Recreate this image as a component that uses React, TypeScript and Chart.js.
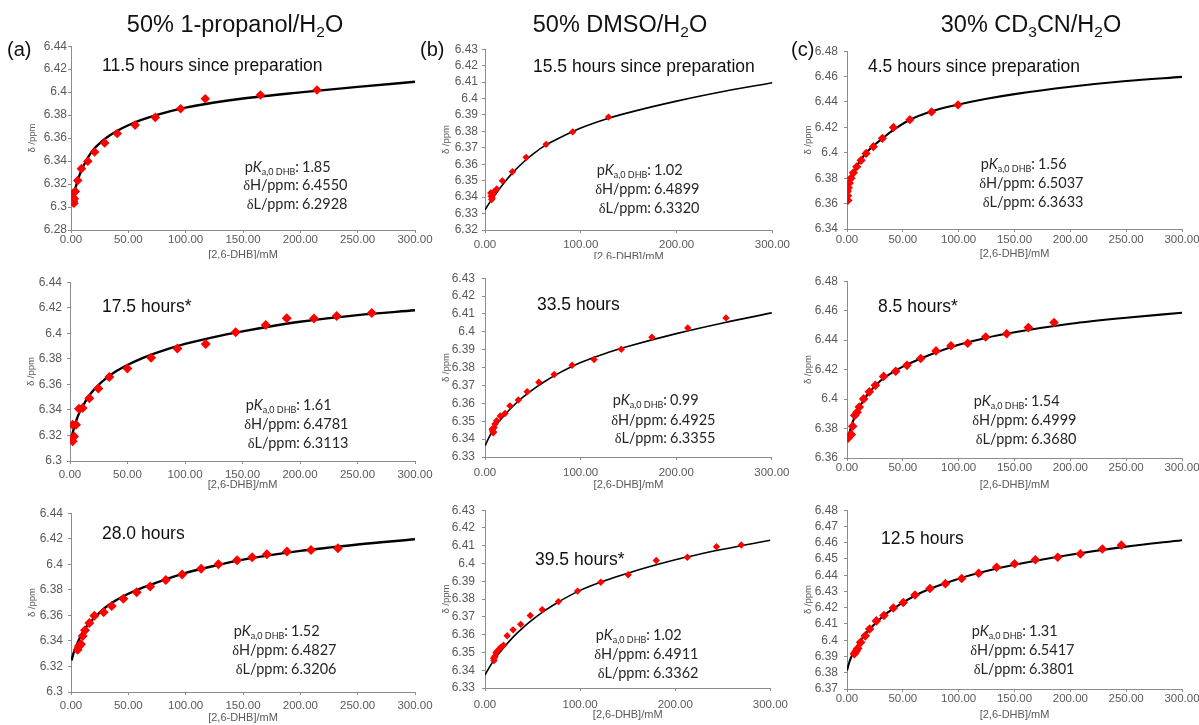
import React, { useEffect, useRef } from "react";
import { Chart, registerables } from "chart.js";
Chart.register(...registerables);

// ---------- tick labels ----------
const xTicks50 = [0, 50, 100, 150, 200, 250, 300];
const xTicks100 = [0, 100, 200, 300];
const yTicksA1 = [6.28, 6.3, 6.32, 6.34, 6.36, 6.38, 6.4, 6.42, 6.44];
const yTicksA23 = [6.3, 6.32, 6.34, 6.36, 6.38, 6.4, 6.42, 6.44];
const yTicksB1 = [6.32, 6.33, 6.34, 6.35, 6.36, 6.37, 6.38, 6.39, 6.4, 6.41, 6.42, 6.43];
const yTicksB23 = [6.33, 6.34, 6.35, 6.36, 6.37, 6.38, 6.39, 6.4, 6.41, 6.42, 6.43];
const yTicksC1 = [6.34, 6.36, 6.38, 6.4, 6.42, 6.44, 6.46, 6.48];
const yTicksC2 = [6.36, 6.38, 6.4, 6.42, 6.44, 6.46, 6.48];
const yTicksC3 = [6.37, 6.38, 6.39, 6.4, 6.41, 6.42, 6.43, 6.44, 6.45, 6.46, 6.47, 6.48];

// ---------- (a) 50% 1-propanol/H2O ----------
const a1PtsX = [1.2, 1.5, 2.0, 2.1, 2.6, 2.9, 3.8, 5.9, 9.1, 14.7, 20.6, 29.4, 40.3, 55.9, 73.5, 95.6, 117.1, 165.2, 214.5];
const a1PtsY = [6.3045, 6.3086, 6.3121, 6.3051, 6.3033, 6.3071, 6.3135, 6.3231, 6.3334, 6.3398, 6.3479, 6.3558, 6.364, 6.3713, 6.378, 6.3855, 6.3943, 6.3975, 6.4019];
const a1FitX = [0.3, 1, 2, 3.5, 5, 7.5, 10, 15, 20, 25, 30, 40, 50, 62, 75, 100, 125, 150, 200, 250, 300];
const a1FitY = [6.301, 6.3045, 6.309, 6.315, 6.3205, 6.328, 6.334, 6.3435, 6.3505, 6.3555, 6.3597, 6.3662, 6.3712, 6.376, 6.3803, 6.3865, 6.391, 6.3945, 6.3998, 6.4046, 6.409];

const a2PtsX = [1.4, 2.3, 3.5, 2.3, 5.2, 7.8, 11.0, 16.8, 24.6, 34.2, 49.9, 70.5, 93.4, 118.0, 144.1, 170.2, 188.5, 212.2, 231.9, 262.4];
const a2PtsY = [6.3165, 6.3155, 6.3191, 6.3283, 6.3283, 6.341, 6.3415, 6.3491, 6.3568, 6.3657, 6.3725, 6.3809, 6.3881, 6.3916, 6.4008, 6.4064, 6.4117, 6.4115, 6.4135, 6.4158];
const a2FitX = [0.3, 2, 5, 7.5, 10, 15, 20, 25, 30, 40, 50, 62, 75, 100, 125, 150, 175, 200, 250, 300];
const a2FitY = [6.3135, 6.321, 6.3305, 6.3365, 6.341, 6.349, 6.355, 6.3597, 6.3637, 6.3702, 6.3752, 6.3802, 6.3847, 6.3917, 6.397, 6.4015, 6.4055, 6.409, 6.4142, 6.418];

const a3PtsX = [5.8, 7.0, 8.7, 10.2, 12.2, 16.0, 20.4, 28.5, 35.5, 45.7, 57.3, 69.0, 82.7, 96.9, 113.5, 128.6, 144.9, 158.0, 170.8, 188.3, 209.3, 232.8];
const a3PtsY = [6.3331, 6.3361, 6.3374, 6.3438, 6.3484, 6.354, 6.3598, 6.3624, 6.3674, 6.373, 6.3781, 6.3827, 6.3876, 6.3921, 6.3965, 6.4, 6.4031, 6.4056, 6.4079, 6.41, 6.4112, 6.4125];
const a3FitX = [0.5, 2, 5, 7.5, 10, 15, 20, 30, 40, 50, 62, 75, 100, 125, 150, 200, 250, 300];
const a3FitY = [6.3247, 6.3298, 6.3368, 6.342, 6.3463, 6.3528, 6.3578, 6.3662, 6.3722, 6.3769, 6.3816, 6.3858, 6.3932, 6.3988, 6.4036, 6.4105, 6.4155, 6.4196];

// ---------- (b) 50% DMSO/H2O ----------
const b1PtsX = [6.0, 6.5, 7.0, 7.5, 8.0, 9.0, 10.0, 12.2, 18.1, 28.6, 42.9, 63.8, 91.6, 128.9];
const b1PtsY = [6.3425, 6.3405, 6.3385, 6.3395, 6.3415, 6.343, 6.3435, 6.3449, 6.3499, 6.3554, 6.3642, 6.3721, 6.3797, 6.3887];
const b1FitX = [0, 5, 10, 20, 30, 40, 50, 62, 75, 100, 125, 150, 200, 250, 300];
const b1FitY = [6.3323, 6.3368, 6.341, 6.3488, 6.3555, 6.3612, 6.3661, 6.3712, 6.3752, 6.382, 6.3872, 6.3914, 6.3984, 6.4044, 6.4096];

const b2PtsX = [7.5, 8.0, 8.5, 9.0, 9.5, 10.4, 12.2, 16.0, 20.9, 26.1, 34.8, 44.1, 56.3, 72.3, 91.1, 114, 142.5, 174.5, 212, 252];
const b2PtsY = [6.3455, 6.3445, 6.3435, 6.344, 6.3465, 6.3485, 6.3503, 6.3529, 6.3543, 6.3586, 6.3619, 6.3665, 6.3718, 6.3761, 6.3813, 6.3845, 6.3903, 6.397, 6.4022, 6.4078];
const b2FitX = [0, 5, 10, 20, 30, 40, 50, 62, 75, 100, 125, 150, 200, 250, 300];
const b2FitY = [6.3363, 6.3418, 6.3465, 6.3532, 6.3588, 6.3636, 6.3677, 6.3721, 6.3762, 6.3828, 6.3878, 6.3919, 6.399, 6.4051, 6.4106];

const b3PtsX = [9.0, 9.5, 10.0, 10.4, 11.5, 12.2, 13.9, 16.7, 19.5, 23.3, 29.5, 37.5, 47.6, 60.1, 77.2, 97.3, 121.7, 150.5, 180, 212.7, 243.3, 269.4];
const b3PtsY = [6.3468, 6.3455, 6.3472, 6.3478, 6.3498, 6.3501, 6.3514, 6.353, 6.3541, 6.3594, 6.3627, 6.3658, 6.3708, 6.3741, 6.3786, 6.3845, 6.3895, 6.3937, 6.4017, 6.4035, 6.4095, 6.4104];
const b3FitX = [0, 5, 10, 20, 30, 40, 50, 62, 75, 100, 125, 150, 200, 250, 300];
const b3FitY = [6.3373, 6.342, 6.3462, 6.3529, 6.3589, 6.364, 6.3684, 6.3732, 6.3777, 6.3849, 6.3902, 6.3946, 6.4021, 6.408, 6.4131];

// ---------- (c) 30% CD3CN/H2O ----------
const c1PtsX = [0.3, 0.6, 0.8, 1.2, 2.1, 3.6, 5.7, 8.7, 12.6, 17.1, 23.6, 31.7, 41.6, 56.3, 75.7, 99.4];
const c1PtsY = [6.3698, 6.3662, 6.3625, 6.3724, 6.3762, 6.38, 6.3842, 6.389, 6.3941, 6.3995, 6.4048, 6.4114, 6.42, 6.4261, 6.4322, 6.4377];
const c1FitX = [0, 1, 2, 4, 6, 9, 13, 17, 24, 32, 42, 56, 76, 100, 125, 150, 200, 250, 300];
const c1FitY = [6.3635, 6.3685, 6.3725, 6.3792, 6.3845, 6.3898, 6.3952, 6.3998, 6.4058, 6.4115, 6.4182, 6.4258, 6.4327, 6.438, 6.4425, 6.4462, 6.452, 6.4565, 6.4598];

const c2PtsX = [1.0, 1.8, 2.8, 3.9, 5.1, 6.9, 9.0, 11.0, 14.9, 20.0, 25.4, 32.8, 43.6, 53.7, 66.0, 79.7, 93.1, 108.1, 124.2, 143.0, 162.4, 185.4];
const c2PtsY = [6.3735, 6.3745, 6.3755, 6.376, 6.3815, 6.3889, 6.3911, 6.3946, 6.4001, 6.4049, 6.4093, 6.4154, 6.4189, 6.4229, 6.4275, 6.4327, 6.4362, 6.4379, 6.4421, 6.4443, 6.4485, 6.452];
const c2FitX = [0, 2, 5, 7.5, 10, 15, 20, 30, 40, 50, 62, 75, 100, 125, 150, 200, 250, 300];
const c2FitY = [6.372, 6.3768, 6.3842, 6.389, 6.393, 6.3994, 6.4046, 6.4124, 6.4178, 6.422, 6.4262, 6.4302, 6.4368, 6.4416, 6.4453, 6.4511, 6.4552, 6.4586];

const c3PtsX = [6.6, 8.1, 9.6, 12.2, 16.4, 20.3, 26.3, 33.1, 41.5, 50.4, 60.9, 74.3, 88.1, 102.7, 117.9, 134, 150.1, 168.7, 188.7, 209, 228.7, 245.7];
const c3PtsY = [6.3917, 6.3933, 6.3949, 6.3987, 6.4027, 6.4069, 6.4119, 6.4152, 6.4198, 6.4232, 6.4278, 6.4318, 6.4348, 6.438, 6.4412, 6.4449, 6.4471, 6.4495, 6.4511, 6.4531, 6.4561, 6.4585];
const c3FitX = [0, 2, 5, 10, 15, 20, 30, 40, 50, 62, 75, 100, 125, 150, 200, 250, 300];
const c3FitY = [6.3814, 6.3863, 6.3915, 6.3975, 6.4025, 6.4066, 6.4134, 6.4188, 6.4232, 6.4278, 6.4318, 6.4379, 6.4426, 6.4464, 6.4526, 6.4576, 6.4615];

// ---------- text ----------
const columnTitles = [
  { pre: "50% 1-propanol/H", sub1: "2", mid: "O", sub2: "", post: "" },
  { pre: "50% DMSO/H", sub1: "2", mid: "O", sub2: "", post: "" },
  { pre: "30% CD", sub1: "3", mid: "CN/H", sub2: "2", post: "O" },
];
const panelLetters = ["(a)", "(b)", "(c)"];
const timeLabels = [
  "11.5 hours since preparation", "15.5 hours since preparation", "4.5 hours since preparation",
  "17.5 hours*", "33.5 hours", "8.5 hours*",
  "28.0 hours", "39.5 hours*", "12.5 hours",
];
const pKaValues = ["1.85", "1.02", "1.56", "1.61", "0.99", "1.54", "1.52", "1.02", "1.31"];
const deltaHValues = ["6.4550", "6.4899", "6.5037", "6.4781", "6.4925", "6.4999", "6.4827", "6.4911", "6.5417"];
const deltaLValues = ["6.2928", "6.3320", "6.3633", "6.3113", "6.3355", "6.3680", "6.3206", "6.3362", "6.3801"];

const AX = "'Liberation Sans', Arial, sans-serif";
const GRAY = "#595959";
const AXIS = "#8c8c8c";

type Panel = {
  L: number; T: number; R: number; B: number;
  xTicks: number[]; yTicks: number[];
  px: number[]; py: number[]; fx: number[]; fy: number[];
  pr: number; lw: number;
  xLabGap: number; yLabGap: number; titleD: number; clip?: number;
  tx: number; ty: number;
  colonX: number; py3: number[];
};

const panels: Panel[] = [
  { L: 71, T: 46, R: 415, B: 230, xTicks: xTicks50, yTicks: yTicksA1, px: a1PtsX, py: a1PtsY, fx: a1FitX, fy: a1FitY, pr: 4.8, lw: 2.4, xLabGap: 10, yLabGap: 4, titleD: 25, clip: 259, tx: 102, ty: 66, colonX: 297, py3: [167, 185, 204] },
  { L: 485, T: 46, R: 773, B: 230, xTicks: xTicks100, yTicks: yTicksB1, px: b1PtsX, py: b1PtsY, fx: b1FitX, fy: b1FitY, pr: 3.7, lw: 1.6, xLabGap: 15, yLabGap: 7, titleD: 27, clip: 259, tx: 533, ty: 67, colonX: 649, py3: [170, 189, 208] },
  { L: 847, T: 46, R: 1182, B: 229, xTicks: xTicks50, yTicks: yTicksC1, px: c1PtsX, py: c1PtsY, fx: c1FitX, fy: c1FitY, pr: 4.6, lw: 2.1, xLabGap: 11, yLabGap: 9, titleD: 25, clip: 261, tx: 868, ty: 67, colonX: 1033, py3: [164, 183, 202] },
  { L: 70, T: 278, R: 415, B: 461, xTicks: xTicks50, yTicks: yTicksA23, px: a2PtsX, py: a2PtsY, fx: a2FitX, fy: a2FitY, pr: 5, lw: 2.4, xLabGap: 14, yLabGap: 8, titleD: 24, tx: 102, ty: 307, colonX: 298, py3: [405, 424, 443] },
  { L: 485, T: 272, R: 773, B: 457, xTicks: xTicks100, yTicks: yTicksB23, px: b2PtsX, py: b2PtsY, fx: b2FitX, fy: b2FitY, pr: 3.7, lw: 1.6, xLabGap: 15.5, yLabGap: 10, titleD: 28, tx: 537, ty: 305, colonX: 665, py3: [400, 420, 438] },
  { L: 847, T: 276, R: 1182, B: 458, xTicks: xTicks50, yTicks: yTicksC2, px: c2PtsX, py: c2PtsY, fx: c2FitX, fy: c2FitY, pr: 4.8, lw: 2.1, xLabGap: 10, yLabGap: 9, titleD: 27, tx: 878, ty: 307, colonX: 1026, py3: [401, 420, 439] },
  { L: 71, T: 509, R: 415, B: 692, xTicks: xTicks50, yTicks: yTicksA23, px: a3PtsX, py: a3PtsY, fx: a3FitX, fy: a3FitY, pr: 5, lw: 2.4, xLabGap: 13.5, yLabGap: 8, titleD: 26, tx: 102, ty: 534, colonX: 286, py3: [631, 650, 669] },
  { L: 485, T: 504, R: 773, B: 688, xTicks: xTicks100, yTicks: yTicksB23, px: b3PtsX, py: b3PtsY, fx: b3FitX, fy: b3FitY, pr: 3.7, lw: 1.6, xLabGap: 17, yLabGap: 10, titleD: 27, tx: 535, ty: 560, colonX: 648, py3: [635, 654, 673] },
  { L: 847, T: 505, R: 1182, B: 689, xTicks: xTicks50, yTicks: yTicksC3, px: c3PtsX, py: c3PtsY, fx: c3FitX, fy: c3FitY, pr: 4.8, lw: 2.1, xLabGap: 9.5, yLabGap: 9, titleD: 26, tx: 881, ty: 539, colonX: 1024, py3: [631, 650, 669] },
];

const YW = 50; // y-axis box width
const PT = 8;
const PR = 22;
const TICK = 3;

function PanelChart({ p }: { p: Panel }) {
  const ref = useRef<HTMLCanvasElement>(null);
  const H = p.titleD + 7;
  const cw = YW + (p.R - p.L) + PR;
  const ch = PT + (p.B - p.T) + H;
  const left = p.L - YW;
  const top = p.T - PT;
  const boxH = p.clip ? p.clip - top : ch;

  useEffect(() => {
    const chart = new Chart(ref.current as HTMLCanvasElement, {
      type: "scatter",
      data: {
        datasets: [
          {
            data: p.px.map((x, i) => ({ x, y: p.py[i] })),
            pointStyle: "rectRot",
            pointRadius: p.pr,
            pointBackgroundColor: "#ff0000",
            pointBorderColor: "#ff0000",
            pointBorderWidth: 0,
            showLine: false,
            order: 1,
          },
          {
            data: p.fx.map((x, i) => ({ x, y: p.fy[i] })),
            showLine: true,
            borderColor: "#000000",
            borderWidth: p.lw,
            pointRadius: 0,
            cubicInterpolationMode: "monotone",
            fill: false,
            order: 2,
          },
        ],
      } as any,
      options: {
        responsive: false,
        animation: false,
        devicePixelRatio: 1,
        events: [],
        layout: { padding: { top: PT, right: PR, left: 0, bottom: 0 } },
        plugins: { legend: { display: false }, tooltip: { enabled: false } },
        scales: {
          x: {
            type: "linear",
            min: p.xTicks[0],
            max: p.xTicks[p.xTicks.length - 1],
            afterBuildTicks: (s: any) => { s.ticks = p.xTicks.map((v) => ({ value: v })); },
            afterFit: (s: any) => { s.height = H; },
            ticks: {
              autoSkip: false, maxRotation: 0, color: GRAY, font: { family: AX, size: 11.5 },
              padding: Math.max(0, p.xLabGap - TICK - 7),
              callback: (v: any) => Number(v).toFixed(2),
            },
            grid: { drawOnChartArea: false, drawTicks: true, tickLength: TICK, color: AXIS, lineWidth: 1 },
            border: { display: true, color: AXIS, width: 1 },
            title: { display: true, text: "[2,6-DHB]/mM", color: GRAY, font: { family: AX, size: 11 }, padding: { top: 0, bottom: 0.4 } },
          },
          y: {
            type: "linear",
            min: p.yTicks[0],
            max: p.yTicks[p.yTicks.length - 1],
            afterBuildTicks: (s: any) => { s.ticks = p.yTicks.map((v) => ({ value: v })); },
            afterFit: (s: any) => { s.width = YW; },
            ticks: {
              autoSkip: false, color: GRAY, font: { family: AX, size: 12 },
              padding: Math.max(0, p.yLabGap - TICK),
              callback: (v: any) => String(parseFloat(Number(v).toFixed(2))),
            },
            grid: { drawOnChartArea: false, drawTicks: true, tickLength: TICK, color: AXIS, lineWidth: 1 },
            border: { display: true, color: AXIS, width: 1 },
            title: { display: true, text: "δ /ppm", color: GRAY, font: { family: AX, size: 9.5 }, padding: { top: YW - 39 - 5.7, bottom: 0 } },
          },
        },
      } as any,
    });
    return () => chart.destroy();
  }, []);

  return (
    <div style={{ position: "absolute", left, top, width: cw, height: boxH, overflow: "hidden" }}>
      <canvas ref={ref} width={cw} height={ch} style={{ display: "block", width: cw, height: ch }} />
    </div>
  );
}

const txt = (extra: React.CSSProperties): React.CSSProperties => ({
  position: "absolute", whiteSpace: "nowrap", lineHeight: 1, ...extra,
});

const subStyle: React.CSSProperties = { fontSize: "0.66em", verticalAlign: "-0.28em", lineHeight: 0 };

export default function App() {
  const headerX = [235, 620, 1031];
  const letterX = [7, 420, 791];
  const PF = "Lato, 'Open Sans', sans-serif";
  return (
    <div style={{ position: "absolute", left: 0, top: 0, width: 1199, height: 725, background: "#fff", overflow: "hidden" }}>
      {panels.map((p, i) => <PanelChart key={i} p={p} />)}

      {columnTitles.map((t, i) => (
        <div key={"h" + i} style={txt({ left: headerX[i], top: 25, transform: "translate(-50%,-50%)", fontFamily: AX, fontSize: 23.5, color: "#111" })}>
          {t.pre}<sub style={subStyle}>{t.sub1}</sub>{t.mid}{t.sub2 ? <sub style={subStyle}>{t.sub2}</sub> : null}{t.post}
        </div>
      ))}

      {panelLetters.map((l, i) => (
        <div key={"l" + i} style={txt({ left: letterX[i], top: 49, transform: "translateY(-50%)", fontFamily: AX, fontSize: 20, color: "#111" })}>{l}</div>
      ))}

      {panels.map((p, i) => (
        <div key={"t" + i} style={txt({ left: p.tx, top: p.ty, transform: "translateY(-50%)", fontFamily: AX, fontSize: 17.5, color: "#111" })}>{timeLabels[i]}</div>
      ))}

      {panels.map((p, i) => (
        <React.Fragment key={"p" + i}>
          <div style={txt({ left: p.colonX + 2, top: p.py3[0], transform: "translate(-100%,-50%)", fontFamily: PF, fontSize: 14.5, color: "#262626" })}>
            p<i>K</i><span style={{ fontSize: "0.62em", verticalAlign: "-0.35em", lineHeight: 0 }}>a,0 DHB</span>:
          </div>
          <div style={txt({ left: p.colonX + 2, top: p.py3[1], transform: "translate(-100%,-50%)", fontFamily: PF, fontSize: 14.5, color: "#262626" })}>
            <span style={{ fontFamily: "'Liberation Serif', serif" }}>δ</span>H/ppm:
          </div>
          <div style={txt({ left: p.colonX + 2, top: p.py3[2], transform: "translate(-100%,-50%)", fontFamily: PF, fontSize: 14.5, color: "#262626" })}>
            <span style={{ fontFamily: "'Liberation Serif', serif" }}>δ</span>L/ppm:
          </div>
          <div style={txt({ left: p.colonX + 5, top: p.py3[0], transform: "translateY(-50%)", fontFamily: PF, fontSize: 14.5, color: "#262626" })}>{pKaValues[i]}</div>
          <div style={txt({ left: p.colonX + 5, top: p.py3[1], transform: "translateY(-50%)", fontFamily: PF, fontSize: 14.5, color: "#262626" })}>{deltaHValues[i]}</div>
          <div style={txt({ left: p.colonX + 5, top: p.py3[2], transform: "translateY(-50%)", fontFamily: PF, fontSize: 14.5, color: "#262626" })}>{deltaLValues[i]}</div>
        </React.Fragment>
      ))}
    </div>
  );
}
